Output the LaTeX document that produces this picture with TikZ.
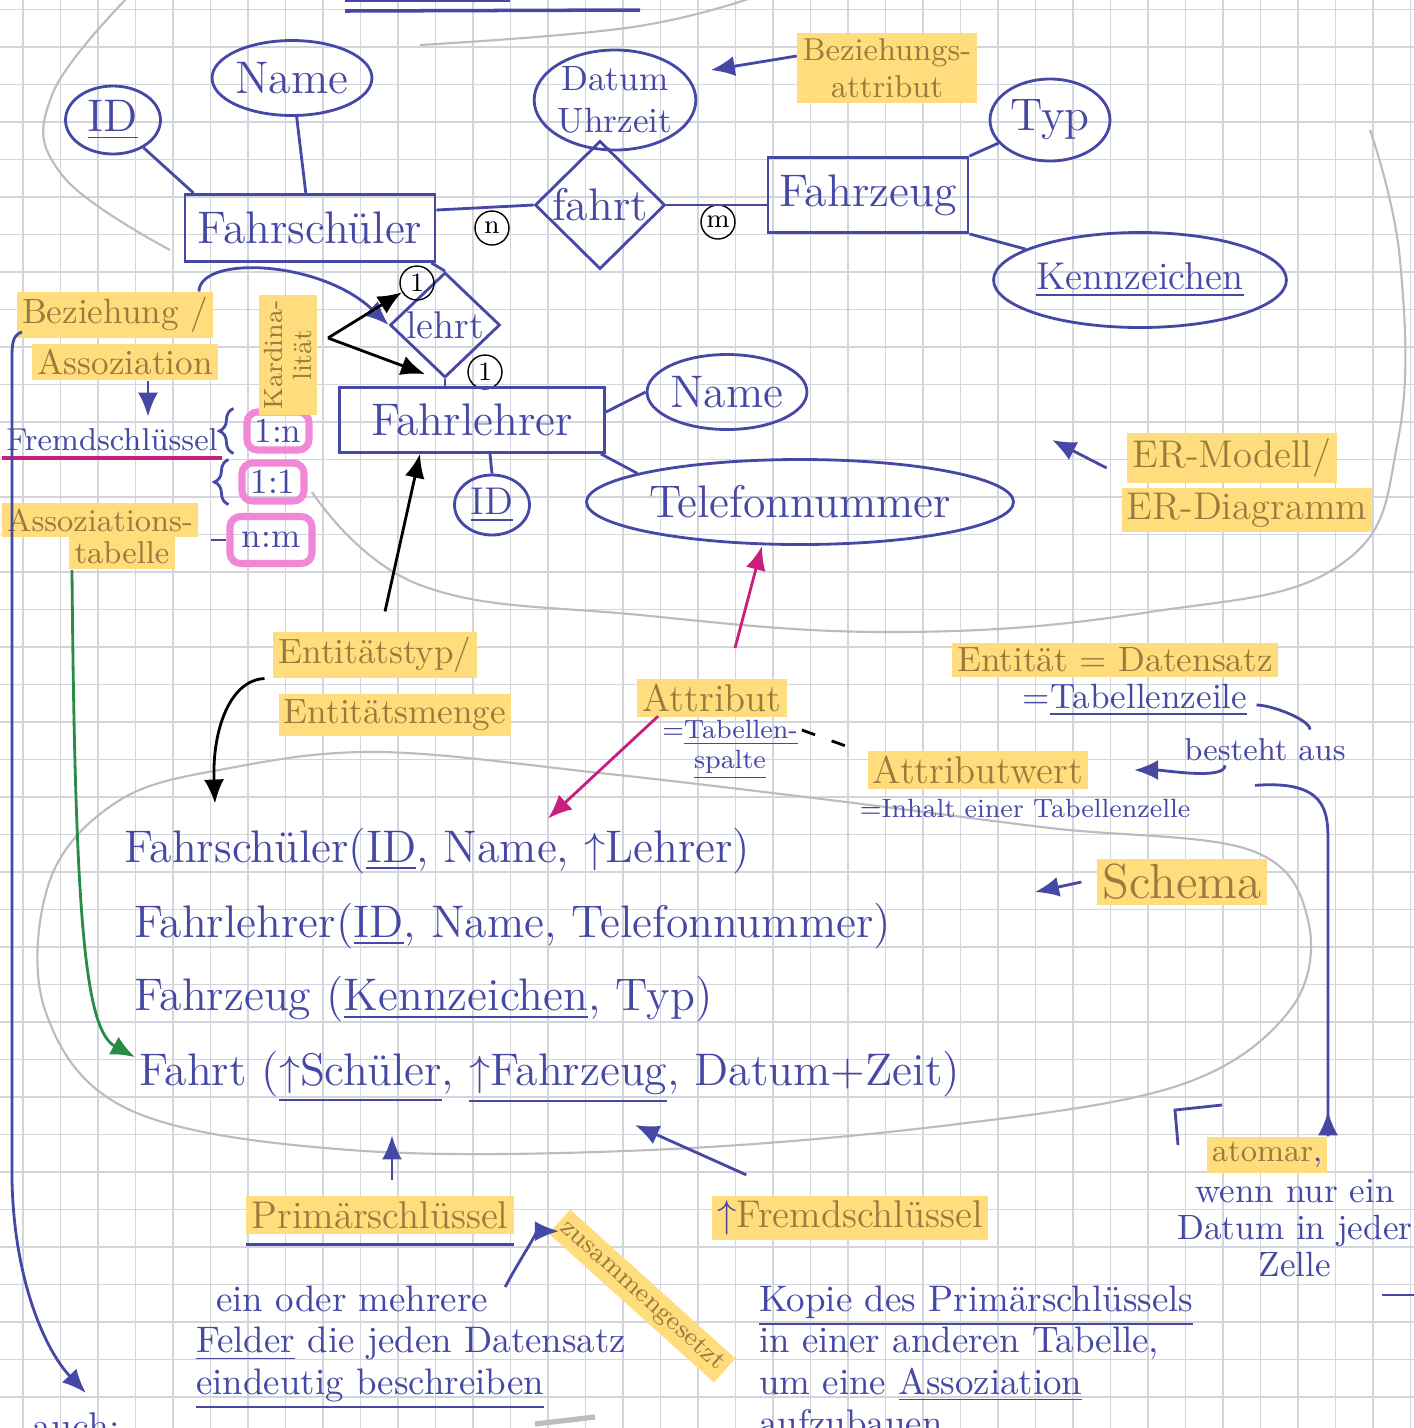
\documentclass[tikz,border=0pt]{standalone}
\usepackage{fontspec}
\usepackage{amsmath}
\usepackage{amssymb}
\usetikzlibrary{shapes.geometric,arrows.meta,decorations.pathreplacing}

\definecolor{ink}{RGB}{70,72,165}
\definecolor{hltext}{RGB}{155,122,62}
\definecolor{hlfill}{RGB}{255,221,125}
\definecolor{pinkmark}{RGB}{240,135,215}
\definecolor{magentaink}{RGB}{200,30,125}
\definecolor{greenink}{RGB}{40,140,70}
\definecolor{gridgrey}{RGB}{212,212,220}
\definecolor{pencil}{RGB}{188,188,192}

\newcommand{\handL}{\fontsize{13}{15}\selectfont}
\newcommand{\handM}{\fontsize{11}{13}\selectfont}
\newcommand{\handS}{\fontsize{10}{12}\selectfont}
\newcommand{\handT}{\fontsize{9}{10.5}\selectfont}
\newcommand{\handXS}{\fontsize{7.5}{8.5}\selectfont}
\newcommand{\handBody}{\fontsize{10.5}{11.7}\selectfont}
\newcommand{\fk}{$\uparrow$}

\tikzset{
	entity/.style={draw=ink, thick, text=ink, rectangle, inner sep=2pt, font=\handL},
	attrib/.style={draw=ink, thick, text=ink, ellipse, inner sep=0pt, font=\handL},
	relation/.style={draw=ink, thick, text=ink, diamond, inner sep=0pt, font=\handL},
	card/.style={draw=black, circle, inner sep=0.6pt, minimum size=0.34cm, font=\handXS},
	ratiobox/.style={draw=pinkmark, line width=2pt, rounded corners=3pt, text=ink, inner sep=2pt, minimum width=0.62cm, minimum height=0.38cm, font=\handS},
	marked/.style={fill=hlfill, text=hltext, inner sep=1.5pt},
	note/.style={text=ink, inner sep=1pt},
	pen/.style={draw=ink, thick},
	arrowpen/.style={draw=ink, thick, -{Latex[length=2.4mm, width=2mm]}},
	blackpen/.style={draw=black, thick, -{Latex[length=2.4mm, width=2mm]}},
	pinkpen/.style={draw=magentaink, thick, -{Latex[length=2.4mm, width=2mm]}},
	greenpen/.style={draw=greenink, thick, -{Latex[length=2.4mm, width=2mm]}},
	pencilline/.style={draw=pencil, line width=0.6pt},
}

\begin{document}
\begin{tikzpicture}

	\useasboundingbox (0,0) rectangle (14.14,-14.28);
	\clip (0,0) rectangle (14.14,-14.28);
	\fill[white] (0,0) rectangle (14.14,-14.28);
	\draw[gridgrey, line width=0.5pt, shift={(0.23,-0.095)}] (-0.5,0.5) grid[step=0.375] (14.5,-14.5);

	\draw[pencilline] plot[smooth, tension=0.7] coordinates {(1.30,0.05) (0.52,-0.95) (0.62,-1.75) (1.70,-2.50)};
	\draw[pencilline] plot[smooth, tension=0.7] coordinates {(3.12,-4.92) (4.20,-5.85) (6.40,-6.15) (9.00,-6.32) (11.50,-6.12) (13.40,-5.65) (13.98,-4.40) (14.00,-2.60) (13.70,-1.30)};
	\draw[pencilline] plot[smooth, tension=0.7] coordinates {(4.20,-0.45) (6.33,-0.27) (7.60,0.05)};
	\draw[pencilline] plot[smooth cycle, tension=0.6] coordinates {(2.30,-7.68) (3.80,-7.52) (6.00,-7.73) (8.30,-8.00) (10.50,-8.28) (12.50,-8.50) (13.08,-9.20) (12.90,-10.10) (11.80,-10.85) (9.50,-11.25) (6.50,-11.50) (3.50,-11.50) (1.30,-11.10) (0.45,-10.10) (0.50,-8.80) (1.20,-8.00)};

	\draw[pen, line width=1pt] (3.45,-0.11) -- (6.40,-0.10);
	\draw[pen] (3.45,-0.01) -- (5.10,-0.01);

	\node[attrib, minimum width=0.95cm, minimum height=0.68cm] (id1) at (1.13,-1.20) {\underline{ID}};
	\node[attrib, minimum width=1.25cm, minimum height=0.75cm] (name1) at (2.92,-0.78) {Name};
	\node[entity, minimum width=2.5cm, minimum height=0.67cm] (fschueler) at (3.10,-2.28) {Fahrschüler};
	\node[attrib, minimum width=1.55cm, minimum height=1.0cm, align=center, font=\handS] (datum) at (6.15,-1.00) {Datum\\Uhrzeit};
	\node[relation, minimum width=1.3cm, minimum height=0.92cm] (fahrt) at (6.00,-2.05) {fahrt};
	\node[card] (n1) at (4.92,-2.28) {n};
	\node[card] (m1) at (7.18,-2.22) {m};
	\node[entity, minimum width=2.0cm, minimum height=0.75cm] (fzeug) at (8.68,-1.95) {Fahrzeug};
	\node[attrib, minimum width=1.2cm, minimum height=0.82cm] (typ) at (10.50,-1.20) {Typ};
	\node[attrib, minimum width=2.45cm, minimum height=0.95cm, font=\handM] (kennz) at (11.40,-2.80) {\underline{Kennzeichen}};

	\node[relation, minimum width=1.1cm, minimum height=0.85cm, font=\handM] (lehrt) at (4.45,-3.25) {lehrt};
	\node[card] (one1) at (4.17,-2.83) {1};
	\node[card] (one2) at (4.85,-3.72) {1};
	\node[entity, minimum width=2.65cm, minimum height=0.65cm] (flehrer) at (4.72,-4.20) {Fahrlehrer};
	\node[attrib, minimum width=1.4cm, minimum height=0.75cm] (name2) at (7.27,-3.92) {Name};
	\node[attrib, minimum width=3.15cm, minimum height=0.85cm] (tel) at (8.00,-5.02) {Telefonnummer};
	\node[attrib, minimum width=0.75cm, minimum height=0.6cm, font=\handM] (id2) at (4.92,-5.05) {\underline{ID}};

	\draw[pen] (id1) -- ([xshift=0.1cm]fschueler.north west);
	\draw[pen] (name1) -- (fschueler);
	\draw[pen] ([yshift=0.18cm]fschueler.east) -- (fahrt.west);
	\draw[pen] (fahrt.east) -- (fahrt.east -| fzeug.west);
	\draw[pen] (datum) -- (fahrt);
	\draw[pen] (fzeug.north east) -- (typ);
	\draw[pen] (fzeug.south east) -- (kennz);
	\draw[pen] ([xshift=-0.05cm]fschueler.south east) -- (lehrt.north);
	\draw[pen] (lehrt.south) -- (lehrt.south |- flehrer.north);
	\draw[pen] ([yshift=0.08cm]flehrer.east) -- (name2.west);
	\draw[pen] ([xshift=-0.05cm]flehrer.south east) -- (tel.170);
	\draw[pen] ([xshift=0.18cm]flehrer.south) -- (id2.north);

	\node[marked, font=\handT, align=center] (bezattr) at (8.87,-0.68) {Beziehungs-\\attribut};
	\draw[arrowpen, shorten >=0.25cm] ([yshift=0.12cm]bezattr.west) -- (datum.20);

	\node[marked, font=\handS] (bez) at (1.15,-3.15) {Beziehung /};
	\node[marked, font=\handS] (assoz) at (1.25,-3.62) {Assoziation};
	\node[note, font=\handT] (fremd) at (1.12,-4.40) {Fremdschlüssel};
	\draw[magentaink, very thick] ([yshift=-0.03cm]fremd.south west) -- ([yshift=-0.03cm]fremd.south east);
	\draw[arrowpen] ([xshift=0.23cm]assoz.south) -- ([xshift=0.36cm,yshift=0.08cm]fremd.north);
	\draw[arrowpen] ([xshift=-0.15cm]bez.north east) .. controls (2.0,-2.55) and (3.2,-2.6) .. (lehrt.west);

	\node[ratiobox] (onen) at (2.78,-4.31) {1:n};
	\node[ratiobox] (oneone) at (2.73,-4.82) {1:1};
	\node[ratiobox, minimum width=0.82cm, minimum height=0.47cm] (nm) at (2.71,-5.40) {n:m};
	\draw[pen, decorate, decoration={brace, amplitude=4pt}] ([xshift=-0.1cm]onen.south west) -- ([xshift=-0.1cm]onen.north west);
	\draw[pen, decorate, decoration={brace, amplitude=4pt}] ([xshift=-0.1cm]oneone.south west) -- ([xshift=-0.1cm]oneone.north west);
	\node[marked, font=\handT] (assozt1) at (1.00,-5.20) {Assoziations-};
	\node[marked, font=\handT] (assozt2) at (1.22,-5.53) {tabelle};
	\draw[pen] ([xshift=0.12cm,yshift=-0.2cm]assozt1.east) -- (nm.west);

	\node[marked, rotate=90, align=center, font=\handXS] (kard) at (2.88,-3.55) {Kardina-\\lität};
	\coordinate (kardtip) at (3.28,-3.38);
	\draw[blackpen] (kardtip) -- (one1);
	\draw[blackpen] (kardtip) -- ([xshift=-0.47cm,yshift=0.12cm]flehrer.north);

	\node[marked, font=\handM] (ermod1) at (12.32,-4.58) {ER-Modell/};
	\node[marked, font=\handM] (ermod2) at (12.47,-5.10) {ER-Diagramm};
	\coordinate (erpoint) at (10.52,-4.40);
	\draw[arrowpen] ([xshift=-0.2cm,yshift=-0.1cm]ermod1.west) -- (erpoint);

	\node[marked, font=\handS] (etyp1) at (3.75,-6.55) {Entitätstyp/};
	\node[marked, font=\handS] (etyp2) at (3.95,-7.15) {Entitätsmenge};
	\draw[blackpen] ([xshift=0.1cm,yshift=0.2cm]etyp1.north) -- ([xshift=-0.52cm]flehrer.south);

	\node[marked, font=\handM] (attrl) at (7.12,-6.98) {Attribut};
	\node[note, font=\handXS, align=center] (tabsp) at (7.30,-7.50) {=\underline{Tabellen-}\\\underline{spalte}};
	\draw[pinkpen] ([xshift=0.23cm,yshift=0.3cm]attrl.north) -- ([xshift=-0.38cm]tel.south);
	\node[marked, font=\handM] (attrw) at (9.78,-7.70) {Attributwert};
	\node[note, font=\handXS] (inhalt) at (10.25,-8.08) {=Inhalt einer Tabellenzelle};
	\draw[black, thick, dash pattern=on 4pt off 5pt] ([yshift=0.2cm]tabsp.east) -- ([xshift=-0.1cm]attrw.north west);

	\node[marked, font=\handS] (entit) at (11.15,-6.60) {Entität = Datensatz};
	\node[note, font=\handS] (tzeile) at (11.35,-7.00) {=\underline{Tabellenzeile}};
	\node[note, font=\handT] (besteht) at (12.65,-7.50) {besteht aus};
	\draw[pen] ([xshift=0.05cm,yshift=-0.05cm]tzeile.east) .. controls +(0.15,0) and +(0,0.1) .. ([xshift=0.45cm,yshift=0.05cm]besteht.north);
	\draw[arrowpen] ([xshift=-0.4cm]besteht.south) .. controls +(0,-0.15) and +(0.3,0) .. ([xshift=0.45cm]attrw.east);

	\node[note, anchor=base west, font=\handL] (s1) at (1.20,-8.62) {Fahrschüler(\underline{ID}, Name, \fk Lehrer)};
	\node[note, anchor=base west, font=\handL] (s2) at (1.30,-9.37) {Fahrlehrer(\underline{ID}, Name, Telefonnummer)};
	\node[note, anchor=base west, font=\handL] (s3) at (1.30,-10.10) {Fahrzeug (\underline{Kennzeichen}, Typ)};
	\node[note, anchor=base west, font=\handL] (s4) at (1.35,-10.85) {Fahrt (\underline{\fk Schüler}, \underline{\fk Fahrzeug}, Datum+Zeit)};

	\draw[blackpen] ([xshift=-0.08cm]etyp1.south west) .. controls (2.30,-6.80) and (2.12,-7.30) .. ([xshift=0.95cm,yshift=0.2cm]s1.north west);
	\draw[pinkpen] (tabsp.north west) -- ([xshift=4.28cm,yshift=0.05cm]s1.north west);
	\draw[greenpen] ([xshift=-0.5cm]assozt2.south) .. controls (0.75,-9.2) and (0.85,-10.3) .. ([yshift=0.2cm]s4.west);

	\node[marked, font=\fontsize{14}{16}\selectfont] (schema) at (11.82,-8.82) {Schema};
	\coordinate (schpoint) at (10.35,-8.92);
	\draw[arrowpen] ([xshift=-0.15cm]schema.west) -- (schpoint);

	\node[marked, font=\handT] (atomar) at (12.67,-11.55) {atomar\textcolor{ink}{,}};
	\node[note, font=\fontsize{10}{10.6}\selectfont, align=center, anchor=north] (atombody) at (12.95,-11.75) {wenn nur ein\\Datum in jeder\\Zelle};
	\coordinate (bend) at (13.28,-8.40);
	\draw[arrowpen] ([xshift=-0.1cm,yshift=-0.2cm]besteht.south) .. controls (13.25,-7.80) and (13.28,-8.1) .. (bend) -- (bend |- atomar.north) -- ++(0,0.25);
	\draw[pen] (11.78,-11.45) -- (11.75,-11.10) -- (12.22,-11.05);

	\node[marked, font=\handM] (prim) at (3.80,-12.15) {Primärschlüssel};
	\draw[pen] ([yshift=-0.1cm]prim.south west) -- ([yshift=-0.1cm]prim.south east);
	\draw[arrowpen] ([xshift=0.12cm,yshift=0.15cm]prim.north) -- ([xshift=0.12cm,yshift=0.6cm]prim.north);
	\node[note, font=\handBody, align=left, anchor=north west] (body1) at (1.92,-12.82) {\hspace{0.2cm}ein oder mehrere\\\underline{Felder} die jeden Datensatz\\\underline{eindeutig beschreiben}};
	\node[marked, rotate=-42, font=\handXS] (zus) at (6.42,-12.96) {zusammengesetzt};
	\draw[arrowpen] ([xshift=-1.25cm,yshift=-0.05cm]body1.north east) .. controls +(0.1,0.2) and +(-0.2,0) .. ([yshift=-0.1cm]zus.west);

	\node[marked, font=\handM] (fremd2) at (8.50,-12.18) {\textcolor{ink}{\fk}Fremdschlüssel};
	\coordinate (fkpoint) at (6.35,-11.25);
	\draw[arrowpen] ([xshift=0.35cm,yshift=0.2cm]fremd2.north west) -- (fkpoint);
	\node[note, font=\handBody, align=left, anchor=north west] (body2) at (7.55,-12.82) {\underline{Kopie des Primärschlüssels}\\in einer anderen Tabelle,\\um eine \underline{Assoziation}\\aufzubauen};

	\node[note, font=\handM, anchor=north west] (auch) at (0.28,-14.08) {auch:};
	\coordinate (hookstart) at (0.22,-3.32);
	\draw[arrowpen] (hookstart) .. controls (0.12,-3.35) and (0.12,-3.45) .. (0.12,-3.60) -- (0.12,-11.80) .. controls (0.14,-12.8) and (0.45,-13.5) .. ([xshift=0.1cm,yshift=0.15cm]auch.north);

	\draw[pen] (13.82,-12.95) -- (14.20,-12.95);
	\draw[pencil, line width=1.5pt] (5.35,-14.24) -- (5.95,-14.17);

\end{tikzpicture}
\end{document}
